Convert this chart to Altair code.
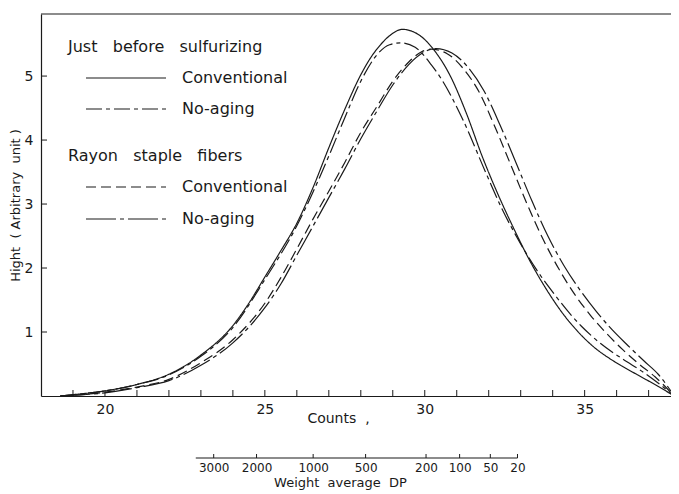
import altair as alt
import pandas as pd

# ---------------- data ----------------
# Just before sulfurizing - Conventional (solid)
jbs_conv_x = [18.6, 19.0, 20.0, 21.0, 22.0, 23.0, 24.0, 24.5, 25.0, 25.5, 26.0, 26.5, 27.0, 27.5,
              28.0, 28.3, 28.6, 28.9, 29.3, 29.8, 30.3, 30.8, 31.3, 31.8, 32.3, 32.8, 33.3,
              33.8, 34.3, 34.8, 35.3, 35.8, 36.3, 36.8, 37.3, 37.8]
jbs_conv_y = [0.0, 0.02, 0.08, 0.18, 0.34, 0.64, 1.10, 1.45, 1.86, 2.27, 2.70, 3.25, 3.88, 4.48,
              5.02, 5.28, 5.48, 5.63, 5.73, 5.65, 5.40, 5.00, 4.42, 3.74, 3.14, 2.60, 2.10,
              1.67, 1.30, 1.00, 0.76, 0.58, 0.43, 0.29, 0.15, 0.0]
# Just before sulfurizing - No-aging (dash-dot)
jbs_noag_x = [18.6, 19.0, 20.0, 21.0, 22.0, 23.0, 24.0, 25.0, 26.0, 26.5, 27.0, 27.5, 28.0, 28.5,
              28.9, 29.25, 29.7, 30.2, 30.5, 31.2, 31.9, 32.4, 32.95, 33.5, 34.1, 34.5, 34.9,
              35.5, 36.15, 36.9, 37.8]
jbs_noag_y = [0.0, 0.02, 0.08, 0.18, 0.33, 0.62, 1.07, 1.82, 2.66, 3.18, 3.75, 4.35, 4.92, 5.33,
              5.49, 5.52, 5.45, 5.18, 4.97, 4.31, 3.50, 2.94, 2.42, 1.97, 1.56, 1.31, 1.09,
              0.82, 0.59, 0.35, 0.0]
# Rayon staple fibers - Conventional (dashed)
ray_conv_x = [18.6, 19.0, 20.0, 21.0, 22.0, 23.0, 24.0, 25.0, 25.5, 26.0, 26.5, 27.0, 27.5, 28.0,
              28.5, 29.0, 29.5, 29.9, 30.2, 30.7, 31.2, 31.7, 32.2, 32.7, 33.2, 33.7, 34.2,
              34.7, 35.2, 35.7, 36.2, 36.7, 37.2, 37.8]
ray_conv_y = [0.0, 0.01, 0.06, 0.14, 0.26, 0.52, 0.88, 1.45, 1.85, 2.30, 2.76, 3.20, 3.65, 4.12,
              4.52, 4.92, 5.22, 5.38, 5.42, 5.35, 5.12, 4.75, 4.20, 3.60, 3.00, 2.45, 1.98,
              1.58, 1.25, 0.97, 0.72, 0.50, 0.30, 0.0]
# Rayon staple fibers - No-aging (long dash - short dash)
ray_noag_x = [18.6, 19.0, 20.0, 21.0, 22.0, 23.0, 24.0, 25.0, 25.5, 26.0, 26.5, 27.0, 27.5, 28.0,
              28.5, 29.0, 29.5, 30.0, 30.35, 30.85, 31.35, 31.85, 32.35, 32.85, 33.35, 33.85,
              34.35, 34.85, 35.35, 35.85, 36.35, 36.85, 37.3, 37.8]
ray_noag_y = [0.0, 0.01, 0.05, 0.13, 0.24, 0.48, 0.83, 1.38, 1.75, 2.20, 2.65, 3.10, 3.55, 4.02,
              4.45, 4.86, 5.18, 5.38, 5.43, 5.36, 5.14, 4.77, 4.24, 3.65, 3.05, 2.50,
              2.04, 1.66, 1.33, 1.04, 0.79, 0.55, 0.34, 0.0]

types = ["Conventional", "No-aging"]
groups = ["Just\u00a0\u00a0\u00a0before\u00a0\u00a0\u00a0sulfurizing",
          "Rayon\u00a0\u00a0\u00a0staple\u00a0\u00a0\u00a0fibers"]

# Weight average DP scale (secondary axis), positions in counts
dp_labels = ["3000", "2000", "1000", "500", "200", "100", "50", "20"]
dp_counts = [23.40, 24.74, 26.51, 28.15, 30.04, 31.09, 32.05, 32.90]
dp_span = [22.84, 32.90]

x_minor_ticks = list(range(19, 38))
x_label_ticks = [20, 25, 30, 35]
y_ticks = [1, 2, 3, 4, 5]

# ---------------- tables ----------------
series = [
    (groups[0], types[0], jbs_conv_x, jbs_conv_y),
    (groups[0], types[1], jbs_noag_x, jbs_noag_y),
    (groups[1], types[0], ray_conv_x, ray_conv_y),
    (groups[1], types[1], ray_noag_x, ray_noag_y),
]
tables = [
    pd.DataFrame({"group": g, "type": t, "count": xs, "height": ys})
    for g, t, xs, ys in series
]
xtick_df = pd.DataFrame({"count": x_minor_ticks})
ytick_df = pd.DataFrame({"height": y_ticks})
dp_df = pd.DataFrame({"start": [dp_span[0]], "end": [dp_span[1]]})
dptick_df = pd.DataFrame({"count": dp_counts, "label": dp_labels})
frame_df = pd.DataFrame({"v": [0]})

# ---------------- chart ----------------
W, H = 630, 382
FONT = "DejaVu Sans"
INK = "#1a1a1a"
XD = [18.0, 37.7]
YD = [0.0, 5.97]
DP_OFF = 62

def xscale():
    return alt.Scale(domain=XD, nice=False, zero=False)

yscale = alt.Scale(domain=YD, nice=False, zero=False)

y_enc = alt.Y(
    "height:Q",
    scale=yscale,
    axis=alt.Axis(
        values=y_ticks, ticks=False, labelPadding=8,
        title="Hight\u00a0 (\u00a0Arbitrary\u00a0\u00a0unit\u00a0)",
        titlePadding=2, grid=False, labelFontSize=14, titleFontSize=13,
    ),
)

x_axis_main = alt.Axis(
    values=x_label_ticks, ticks=False, labelPadding=6, labelFlush=False,
    title="Counts\u00a0\u00a0,", titleX=297, titleY=15, titleBaseline="top", titleAlign="center",
    grid=False, labelFontSize=14, titleFontSize=14,
)

dashes = [[1, 0], [16, 4, 4, 4], [10, 5], [30, 4, 4, 4]]
legend_titles = [groups[0], None, groups[1], None]
legend_ys = [25, 54, 134, 164]

layers = []
for i, tbl in enumerate(tables):
    leg_kwargs = dict(
        orient="none", legendX=27, legendY=legend_ys[i],
        symbolType="stroke", symbolSize=6400, symbolStrokeWidth=1.2, symbolStrokeColor=INK,
        symbolOffset=17, labelOffset=15, labelFontSize=16, titleFontSize=16,
        titleFontWeight="normal", titlePadding=-18, titleLimit=400,
    )
    leg = alt.Legend(title=legend_titles[i], **leg_kwargs)
    layers.append(
        alt.Chart(tbl).mark_line(
            interpolate="monotone", strokeWidth=1.2, color=INK, clip=True
        ).encode(
            x=alt.X("count:Q", scale=xscale(), axis=x_axis_main if i == 0 else None),
            y=y_enc,
            strokeDash=alt.StrokeDash(
                "type:N",
                scale=alt.Scale(domain=[series[i][1]], range=[dashes[i]]),
                legend=leg,
            ),
        )
    )

# inward ticks of the main axes
xticks = alt.Chart(xtick_df).mark_rule(color=INK, strokeWidth=1).encode(
    x=alt.X("count:Q", scale=xscale(), axis=None),
    y=alt.value(H), y2=alt.value(H - 6),
)
yticks = alt.Chart(ytick_df).mark_rule(color=INK, strokeWidth=1).encode(
    y=y_enc,
    x=alt.value(0), x2=alt.value(6),
)

# secondary "Weight average DP" axis
dp_line = alt.Chart(dp_df).mark_rule(color=INK, strokeWidth=1.2).encode(
    x=alt.X(
        "start:Q",
        scale=xscale(),
        axis=alt.Axis(
            orient="bottom", offset=DP_OFF, values=dp_counts, domain=False, ticks=False,
            labelExpr=" : ".join(
                f"datum.value == {c} ? '{l}'" for c, l in zip(dp_counts, dp_labels)
            ) + " : ''",
            labelPadding=4, labelFlush=False,
            title="Weight\u00a0\u00a0average\u00a0\u00a0DP",
            titleX=299, titleY=18, titleBaseline="top", titleAlign="center",
            grid=False, labelFontSize=12, titleFontSize=13,
        ),
    ),
    x2="end:Q",
    y=alt.value(H + DP_OFF),
)
dp_ticks = alt.Chart(dptick_df).mark_rule(color=INK, strokeWidth=1).encode(
    x=alt.X("count:Q", scale=xscale(), axis=None),
    y=alt.value(H + DP_OFF), y2=alt.value(H + DP_OFF - 4),
)

frame = alt.Chart(frame_df).mark_rule(color=INK, strokeWidth=1.2).encode(y=alt.value(0))

chart = (
    alt.layer(*layers, xticks, yticks, dp_line, dp_ticks, frame)
    .resolve_scale(x="independent", strokeDash="independent")
    .properties(
        width=W, height=H,
        autosize=alt.AutoSizeParams(type="none"),
        padding={"left": 33, "top": 6, "right": 0, "bottom": 94},
    )
    .configure_view(stroke=None)
    .configure_axis(
        labelFont=FONT, titleFont=FONT, labelColor=INK, titleColor=INK,
        domainColor=INK, tickColor=INK, domainWidth=1.2,
        titleFontWeight="normal",
    )
    .configure_legend(labelFont=FONT, titleFont=FONT, labelColor=INK, titleColor=INK)
)

chart.save("out.html", embed_options={"renderer": "svg", "actions": False})
